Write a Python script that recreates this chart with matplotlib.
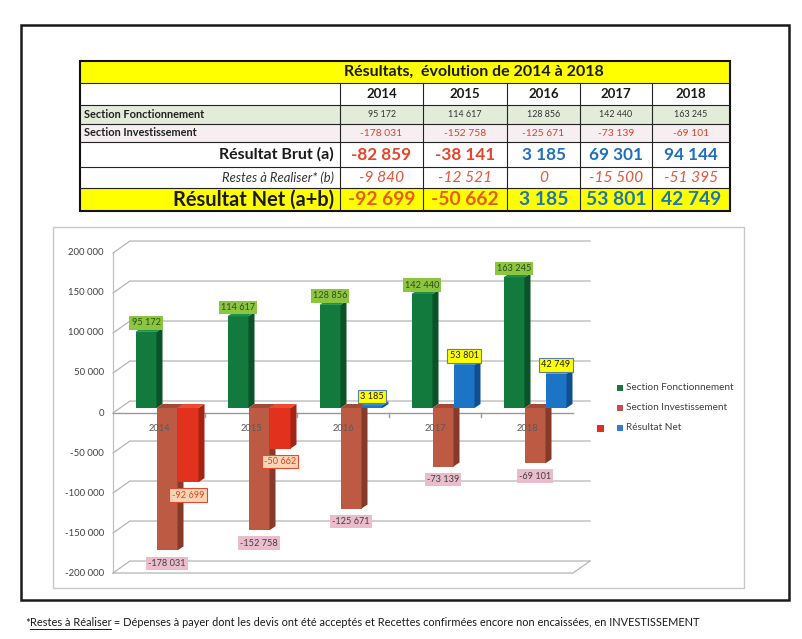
import matplotlib.pyplot as plt
from matplotlib.patches import Polygon, Rectangle

plt.rcParams['font.family'] = ['Lato', 'DejaVu Sans']

# data
years = ['2014', '2015', '2016', '2017', '2018']
fonctionnement = [95172, 114617, 128856, 142440, 163245]
investissement = [-178031, -152758, -125671, -73139, -69101]
resultat_brut = [-82859, -38141, 3185, 69301, 94144]
restes = [-9840, -12521, 0, -15500, -51395]
resultat_net = [-92699, -50662, 3185, 53801, 42749]
yticks = [-200000, -150000, -100000, -50000, 0, 50000, 100000, 150000, 200000]


def fmt(v):
    return f"{v:,}".replace(',', ' ')


W, H = 802, 639
fig = plt.figure(figsize=(W / 100, H / 100), dpi=100)
renderer = fig.canvas.get_renderer()


def size_for(s, width, **kw):
    # font size that gives the string the wanted pixel width
    t = fig.text(0, 0, s, fontsize=10, **kw)
    w = t.get_window_extent(renderer).width
    t.remove()
    return 10 * width / w


page = fig.add_axes([0, 0, 1, 1])
page.set_xlim(0, W)
page.set_ylim(H, 0)
page.axis('off')

# frames
page.add_patch(Rectangle((21, 25), 768, 575, fill=False, ec='#1a1a1a', lw=1.8))
page.add_patch(Rectangle((53, 227), 691, 361, fill=False, ec='#c8c8c8', lw=1))

# ---- table ----
cols = [80, 340, 423, 507, 580, 652, 730]
rows = [61, 83, 105, 124, 142, 167, 188, 211]
fills = ['#ffff00', 'white', '#e3ebd9', '#f6eef0', 'white', 'white', '#ffff00']
for k, c in enumerate(fills):
    page.add_patch(Rectangle((cols[0], rows[k]), cols[-1] - cols[0], rows[k + 1] - rows[k],
                             fc=c, ec='none'))
for y in rows[1:-1]:
    page.plot([cols[0], cols[-1]], [y, y], color='#222222', lw=0.8)
for x in cols[1:-1]:
    page.plot([x, x], [rows[1], rows[-1]], color='#222222', lw=0.8)
page.add_patch(Rectangle((cols[0], rows[0]), cols[-1] - cols[0], rows[-1] - rows[0],
                         fill=False, ec='#111111', lw=1.5))

centers = [(cols[k + 1] + cols[k + 2]) / 2 for k in range(5)]


def ymid(k):
    return (rows[k] + rows[k + 1]) / 2


title = 'Résultats,  évolution de 2014 à 2018'
page.text(474, ymid(0), title, fontsize=size_for(title, 262, weight='bold'), weight='bold',
          ha='center', va='center', color='#1a1a1a')

s = size_for('2014', 31, weight='bold')
for xc, yr in zip(centers, years):
    page.text(xc, ymid(1), yr, fontsize=s, weight='bold', ha='center', va='center', color='#1a1a1a')

page.text(84, ymid(2), 'Section Fonctionnement', weight='bold', color='#222222', va='center',
          fontsize=size_for('Section Fonctionnement', 121, weight='bold'))
s = size_for('95 172', 28)
for xc, v in zip(centers, fonctionnement):
    page.text(xc, ymid(2), fmt(v), fontsize=s, ha='center', va='center', color='#333333')

page.text(84, ymid(3), 'Section Investissement', weight='bold', color='#222222', va='center',
          fontsize=size_for('Section Investissement', 114, weight='bold'))
s = size_for('-178 031', 42)
for xc, v in zip(centers, investissement):
    page.text(xc, ymid(3), fmt(v), fontsize=s, ha='center', va='center', color='#e0402a')

page.text(334, ymid(4), 'Résultat Brut (a)', weight='bold', color='#1a1a1a', ha='right', va='center',
          fontsize=size_for('Résultat Brut (a)', 115, weight='bold'))
s = size_for('-82 859', 60, weight='bold')
for xc, v in zip(centers, resultat_brut):
    page.text(xc, ymid(4), fmt(v), fontsize=s, weight='bold', ha='center', va='center',
              color='#e8432b' if v < 0 else '#1f6fbf')

page.text(334, ymid(5), 'Restes à Realiser* (b)', style='italic', color='#333333', ha='right',
          va='center', fontsize=size_for('Restes à Realiser* (b)', 112, style='italic'))
s = size_for('-9 840', 45, style='italic')
for xc, v in zip(centers, restes):
    page.text(xc, ymid(5), fmt(v), fontsize=s, style='italic', ha='center', va='center',
              color='#e8553a')

page.text(334, ymid(6), 'Résultat Net (a+b)', weight='bold', color='#1a1a1a', ha='right', va='center',
          fontsize=size_for('Résultat Net (a+b)', 161, weight='bold'))
s = size_for('-92 699', 68, weight='bold')
for xc, v in zip(centers, resultat_net):
    page.text(xc, ymid(6), fmt(v), fontsize=s, weight='bold', ha='center', va='center',
              color='#e85a1e' if v < 0 else '#1f77a8')

# ---- 3D-looking bar chart ----
ax = fig.add_axes([113 / W, (H - 573) / H, 460 / W, 320 / H])
ax.set_xlim(-0.5, 4.5)
ax.set_ylim(-200000, 200000)
ax.axis('off')
ux = 5 / 460
uy = 400000 / 320
DX, DY = 17 * ux, 12 * uy

tick_size = size_for('200 000', 36)
for v in yticks:
    ax.plot([-0.5, -0.5 + DX, 4.5 + DX], [v, v + DY, v + DY], color='#b4b4b4', lw=0.9,
            clip_on=False, zorder=1)
    ax.text(-0.5 - 9 * ux, v, fmt(v), ha='right', va='center', fontsize=tick_size, color='#404040')
ax.plot([-0.5, -0.5], [-200000, 200000], color='#c0c0c0', lw=0.9, clip_on=False, zorder=1)
ax.plot([-0.5, 4.5, 4.5 + DX], [-200000, -200000, -200000 + DY], color='#b4b4b4', lw=0.9,
        clip_on=False, zorder=1)
ax.plot([-0.5, 4.5], [0, 0], color='#9a9a9a', lw=1, clip_on=False, zorder=1)
for b in [0.5, 1.5, 2.5, 3.5]:
    ax.plot([b, b], [0, -4 * uy], color='#9a9a9a', lw=1, clip_on=False, zorder=1)

cat_size = size_for('2014', 22)
for i, yr in enumerate(years):
    ax.text(i, -19000, yr, ha='center', va='center', fontsize=cat_size, color='#5a5a5a', zorder=4)

w = 21 * ux
SX, SY = 8 * ux, 5 * uy
bdx, bdy = 6 * ux, 4 * uy


def bar(x0, v, front, side, top):
    x0 += SX
    lo, hi = min(0, v) + SY, max(0, v) + SY
    ax.add_patch(Rectangle((x0, lo), w, hi - lo, fc=front, ec='none', zorder=3, clip_on=False))
    ax.add_patch(Polygon([(x0 + w, lo), (x0 + w + bdx, lo + bdy), (x0 + w + bdx, hi + bdy),
                          (x0 + w, hi)], fc=side, ec='none', zorder=3, clip_on=False))
    ax.add_patch(Polygon([(x0, hi), (x0 + bdx, hi + bdy), (x0 + w + bdx, hi + bdy), (x0 + w, hi)],
                         fc=top, ec='none', zorder=3, clip_on=False))
    return x0 + w / 2


lab_size = size_for('95 172', 29)
for i in range(5):
    xg = bar(i - w * 1.5, fonctionnement[i], '#127a3c', '#0a5228', '#1f8f4a')
    xb = bar(i - w * 0.5, investissement[i], '#bd5a44', '#87392a', '#a34a37')
    vn = resultat_net[i]
    if vn < 0:
        xn = bar(i + w * 0.5, vn, '#e2321e', '#a32414', '#ef4a32')
    else:
        xn = bar(i + w * 0.5, vn, '#1b74c6', '#0f4f8d', '#3b8fdc')

    ax.text(xg, fonctionnement[i] + SY + 9 * uy, fmt(fonctionnement[i]), ha='center', va='center',
            fontsize=lab_size, color='#2c4a22', zorder=5,
            bbox=dict(boxstyle='square,pad=0.25', fc='#8cc63e', ec='none'))
    ax.text(xb, investissement[i] + SY - 13 * uy, fmt(investissement[i]), ha='center', va='center',
            fontsize=lab_size, color='#404040', zorder=5,
            bbox=dict(boxstyle='square,pad=0.25', fc='#ebbccb', ec='none'))
    if vn < 0:
        ax.text(xn, vn + SY - 13 * uy, fmt(vn), ha='center', va='center', fontsize=lab_size,
                color='#e0401e', zorder=5,
                bbox=dict(boxstyle='square,pad=0.25', fc='#fbd6b6', ec='#e04a30', lw=0.8))
    else:
        ax.text(xn, vn + SY + 9 * uy, fmt(vn), ha='center', va='center', fontsize=lab_size,
                color='#1a1a1a', zorder=5,
                bbox=dict(boxstyle='square,pad=0.25', fc='#ffff00', ec='#5b7fa5', lw=0.8))

# legend
leg_size = size_for('Section Fonctionnement', 108)
legend = [('Section Fonctionnement', '#157a3c', 388),
          ('Section Investissement', '#c0504d', 408),
          ('Résultat Net', '#2e7fd0', 428)]
for name, c, y in legend:
    page.add_patch(Rectangle((617, y - 3), 6, 6, fc=c, ec='none'))
    page.text(626, y, name, fontsize=leg_size, color='#404040', va='center')
page.add_patch(Rectangle((597, 424.5), 7, 7, fc='#e03020', ec='none'))

# footnote
p1, p2 = '*', 'Restes à Réaliser'
p3 = (' = Dépenses à payer dont les devis ont été acceptés et Recettes confirmées '
      'encore non encaissées, en INVESTISSEMENT')
fs = size_for(p1 + p2 + p3, 672)
x = 25
for part in [p1, p2, p3]:
    t = page.text(x, 623, part, fontsize=fs, color='#1a1a1a', va='center')
    bb = t.get_window_extent(renderer)
    if part == p2:
        page.plot([x, x + bb.width], [629, 629], color='#1a1a1a', lw=0.7)
    x += bb.width

fig.savefig('out.png', dpi=100, facecolor='white')
